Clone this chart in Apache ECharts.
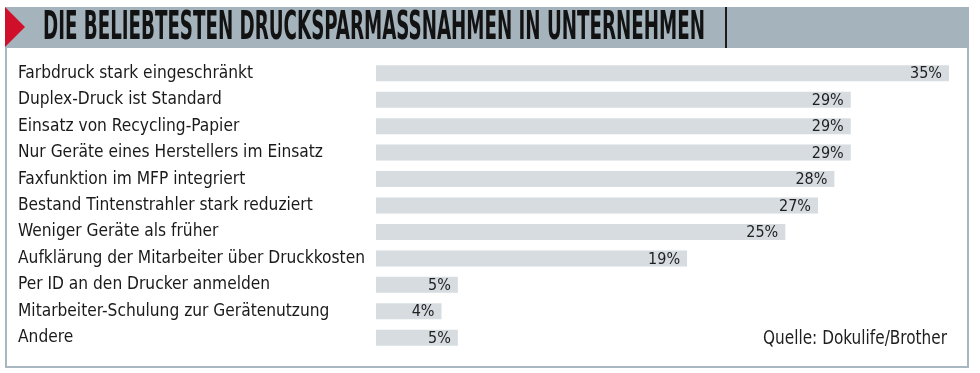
<!DOCTYPE html>
<html>
<head>
<meta charset="utf-8">
<script src="https://cdn.jsdelivr.net/npm/echarts@6/dist/echarts.min.js"></script>
<style>
html,body{margin:0;padding:0;background:#fff;}
#chart{width:980px;height:373px;}
</style>
</head>
<body>
<div id="chart"></div>
<script>
const titleText = 'DIE BELIEBTESTEN DRUCKSPARMASSNAHMEN IN UNTERNEHMEN';
const sourceText = 'Quelle: Dokulife/Brother';
const categories = [
  'Farbdruck stark eingeschränkt',
  'Duplex-Druck ist Standard',
  'Einsatz von Recycling-Papier',
  'Nur Geräte eines Herstellers im Einsatz',
  'Faxfunktion im MFP integriert',
  'Bestand Tintenstrahler stark reduziert',
  'Weniger Geräte als früher',
  'Aufklärung der Mitarbeiter über Druckkosten',
  'Per ID an den Drucker anmelden',
  'Mitarbeiter-Schulung zur Gerätenutzung',
  'Andere'
];
const values = [35, 29, 29, 29, 28, 27, 25, 19, 5, 4, 5];

const FONT = '"DejaVu Sans Condensed", "Liberation Sans Narrow", sans-serif';

const cv = document.createElement('canvas').getContext('2d');
function fitScale(text, font, width) {
  cv.font = font;
  return width / cv.measureText(text).width;
}
const titleFont = 'bold 39px ' + FONT;
const titleScaleX = fitScale(titleText, titleFont, 662);
const sourceFont = '19px ' + FONT;
const sourceScaleX = fitScale(sourceText, sourceFont, 184);

const chart = echarts.init(document.getElementById('chart'), null, {renderer: 'canvas'});
chart.setOption({
  animation: false,
  backgroundColor: '#ffffff',
  grid: {left: 376, right: 31, top: 60, bottom: 22, containLabel: false},
  xAxis: {type: 'value', min: 0, max: 35, show: false},
  yAxis: {
    type: 'category',
    inverse: true,
    data: categories,
    axisLine: {show: false},
    axisTick: {show: false},
    splitLine: {show: false},
    axisLabel: {
      align: 'left',
      margin: 358,
      fontFamily: FONT,
      fontSize: 17.2,
      color: '#1a1a1a'
    }
  },
  series: [{
    type: 'bar',
    data: values,
    barWidth: 16,
    itemStyle: {color: '#d6dce0'},
    label: {
      show: true,
      position: 'insideRight',
      distance: 7,
      formatter: p => p.value + '%',
      fontFamily: FONT,
      fontSize: 16,
      color: '#1e1e1e',
      offset: [0, 1]
    }
  }],
  graphic: [
    {type: 'rect', shape: {x: 5, y: 7, width: 964, height: 41}, style: {fill: '#a4b3bc'}, z: 1},
    {type: 'polygon', shape: {points: [[5, 7], [25, 27], [5, 47]]}, style: {fill: '#d0102b'}, z: 2},
    {type: 'line', shape: {x1: 726, y1: 7, x2: 726, y2: 48}, style: {stroke: '#1c1c1c', lineWidth: 2}, z: 2},
    {type: 'polyline', shape: {points: [[6, 48], [6, 367], [968, 367], [968, 48]]}, style: {stroke: '#a9b7c0', lineWidth: 2, fill: null}, z: 2},
    {
      type: 'text', x: 43, y: 29, scaleX: titleScaleX, z: 3,
      style: {text: titleText, font: titleFont, fill: '#121212', textVerticalAlign: 'middle', textAlign: 'left'}
    },
    {
      type: 'text', x: 947, y: 339, scaleX: sourceScaleX, z: 3,
      style: {text: sourceText, font: sourceFont, fill: '#1e1e1e', textVerticalAlign: 'middle', textAlign: 'right'}
    }
  ]
});
</script>
</body>
</html>
